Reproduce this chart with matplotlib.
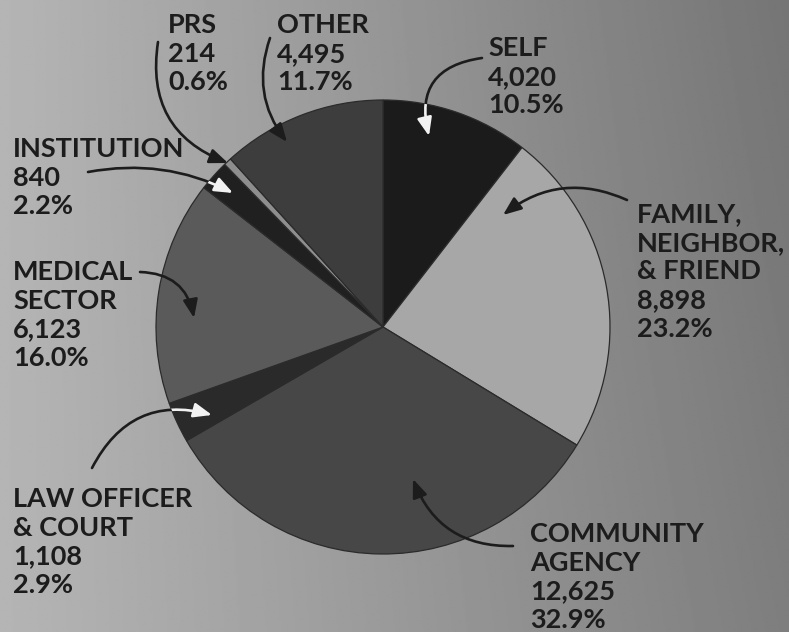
import numpy as np
import matplotlib
matplotlib.use("Agg")
import matplotlib.pyplot as plt
from matplotlib.patches import FancyArrowPatch

W, H = 789, 632

# Referral sources and case counts
sources = ["SELF", "FAMILY,\nNEIGHBOR,\n& FRIEND", "COMMUNITY\nAGENCY",
           "LAW OFFICER\n& COURT", "MEDICAL\nSECTOR", "INSTITUTION", "PRS", "OTHER"]
counts = [4020, 8898, 12625, 1108, 6123, 840, 214, 4495]
shades = ["#1b1b1b", "#a7a7a7", "#474747", "#2a2a2a", "#5a5a5a", "#202020", "#8e8e8e", "#3d3d3d"]

# Label layout in pixel coordinates (x, first baseline measured from top)
label_pos = [(488, 56), (637, 222), (530, 542), (13, 507), (13, 280), (13, 157), (168, 33), (277, 33)]
# Leader arrows: tail, tip (pixels from top-left), curvature, white inside slice?
arrow_tail = [(482, 58), (627, 200), (513, 546), (92, 468), (140, 272), (88, 172), (158, 42), (270, 38)]
arrow_tip = [(429, 136), (503, 215), (413, 479), (212, 415), (194, 318), (233, 193), (228, 163), (287, 142)]
arrow_rad = [0.55, 0.3, -0.35, -0.4, -0.4, -0.17, 0.4, 0.27]
arrow_white = [True, False, False, True, False, True, False, False]

total = sum(counts)
leading = 28.7
ink = "#1c1c1c"
font = dict(family=["Lato", "DejaVu Sans"], weight="bold", size=19.5, color=ink)

fig = plt.figure(figsize=(W / 100, H / 100), dpi=100)
ax = fig.add_axes([0, 0, 1, 1])

# Shaded paper background, lighter on the left and darker to the right
xx, yy = np.meshgrid(np.linspace(0, 1, 400), np.linspace(0, 1, 320))
grad = 181 - 55 * xx - 9 * (1 - yy) * xx
ax.imshow(grad, extent=(0, W, 0, H), origin="upper", cmap="gray",
          vmin=0, vmax=255, aspect="auto", zorder=0, interpolation="bilinear")

wedges, _ = ax.pie(counts, colors=shades, startangle=90, counterclock=False,
                   center=(383, H - 327), radius=227, frame=True,
                   wedgeprops=dict(edgecolor="#2b2b2b", linewidth=0.9))

def up(p):
    return (p[0], H - p[1])

for i, name in enumerate(sources):
    lines = name.split("\n") + [f"{counts[i]:,}", f"{100 * counts[i] / total:.1f}%"]
    x, y0 = label_pos[i]
    for k, line in enumerate(lines):
        ax.text(x, H - (y0 + k * leading), line, ha="left", va="baseline", zorder=5, **font)

    style = "-|>,head_length=0.55,head_width=0.22"
    kw = dict(connectionstyle=f"arc3,rad={arrow_rad[i]}", arrowstyle=style,
              mutation_scale=20, lw=1.9, shrinkA=0, shrinkB=0, zorder=4)
    dark = FancyArrowPatch(up(arrow_tail[i]), up(arrow_tip[i]), color=ink, **kw)
    ax.add_patch(dark)
    if arrow_white[i]:
        light = FancyArrowPatch(up(arrow_tail[i]), up(arrow_tip[i]), color="#f2f2f2", **kw)
        ax.add_patch(light)
        light.set_clip_path(wedges[i])

ax.set_xlim(0, W)
ax.set_ylim(0, H)
ax.set_aspect("auto")
ax.axis("off")

fig.savefig("out.png", dpi=100)
